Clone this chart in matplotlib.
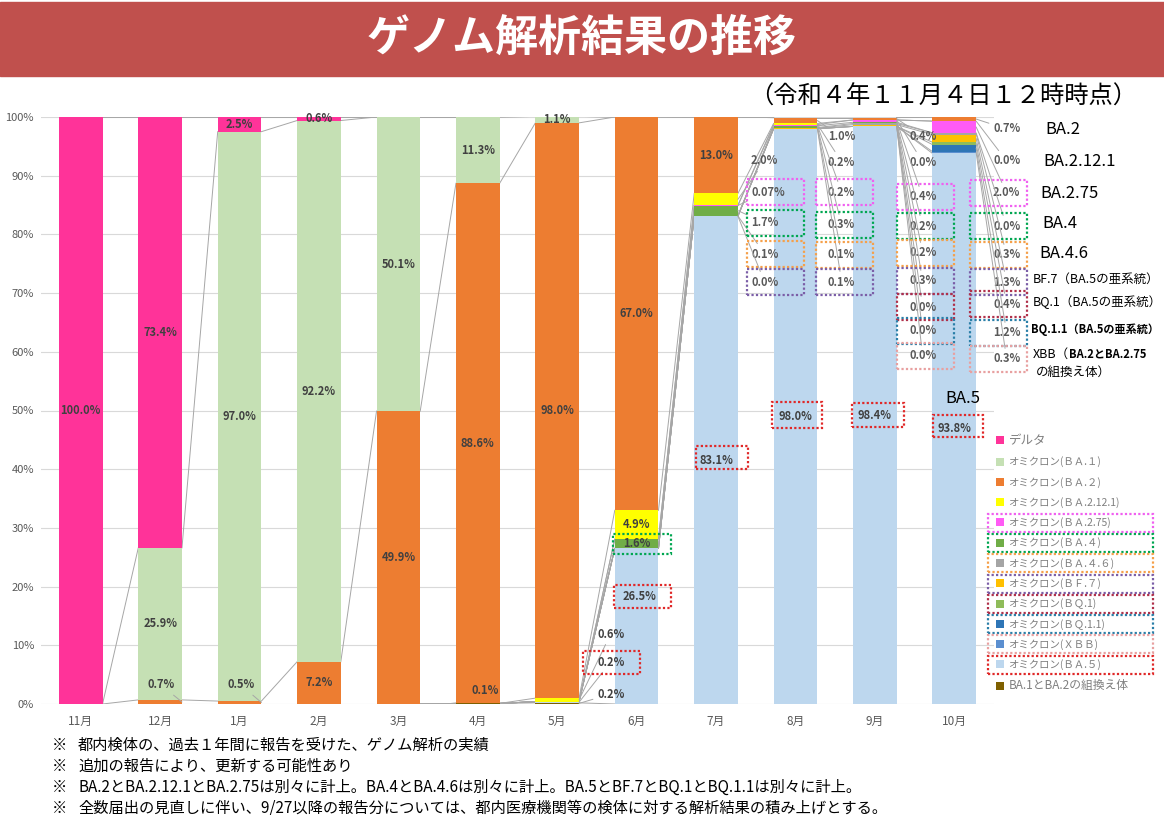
import matplotlib
matplotlib.use("Agg")
import matplotlib.pyplot as plt
from matplotlib.patches import Rectangle
import numpy as np

plt.rcParams['font.family'] = ['Noto Sans CJK JP', 'DejaVu Sans']

months = ['11月', '12月', '1月', '2月', '3月', '4月', '5月', '6月', '7月', '8月', '9月', '10月']

# share of each lineage (%), per month
delta    = [100.0, 73.4, 2.5, 0.6, 0, 0, 0, 0, 0, 0, 0, 0]
ba1      = [0, 25.9, 97.0, 92.2, 50.1, 11.3, 1.1, 0, 0, 0, 0, 0]
ba2      = [0, 0.7, 0.5, 7.2, 49.9, 88.6, 98.0, 67.0, 13.0, 1.0, 0.4, 0.7]
ba2_12_1 = [0, 0, 0, 0, 0, 0, 0.6, 4.9, 2.0, 0.2, 0.0, 0.0]
ba2_75   = [0, 0, 0, 0, 0, 0, 0, 0, 0.07, 0.2, 0.4, 2.0]
ba4      = [0, 0, 0, 0, 0, 0, 0, 1.6, 1.7, 0.3, 0.2, 0.0]
ba4_6    = [0, 0, 0, 0, 0, 0, 0, 0, 0.1, 0.1, 0.2, 0.3]
bf7      = [0, 0, 0, 0, 0, 0, 0, 0, 0.0, 0.1, 0.3, 1.3]
bq1      = [0, 0, 0, 0, 0, 0, 0, 0, 0, 0, 0.0, 0.4]
bq1_1    = [0, 0, 0, 0, 0, 0, 0, 0, 0, 0, 0.0, 1.2]
xbb      = [0, 0, 0, 0, 0, 0, 0, 0, 0, 0, 0.0, 0.3]
ba5      = [0, 0, 0, 0, 0, 0, 0.2, 26.5, 83.1, 98.0, 98.4, 93.8]
recomb   = [0, 0, 0, 0, 0, 0.1, 0.2, 0, 0, 0, 0, 0]

# legend order = top of the stack first
series = [
    ('delta', 'デルタ', '#FF3399', delta),
    ('ba1', 'オミクロン(ＢＡ.１)', '#C5E0B4', ba1),
    ('ba2', 'オミクロン(ＢＡ.２)', '#ED7D31', ba2),
    ('ba2_12_1', 'オミクロン(ＢＡ.2.12.1)', '#FFFF00', ba2_12_1),
    ('ba2_75', 'オミクロン(ＢＡ.2.75)', '#FF5BF5', ba2_75),
    ('ba4', 'オミクロン(ＢＡ.４)', '#70AD47', ba4),
    ('ba4_6', 'オミクロン(ＢＡ.４.６)', '#A5A5A5', ba4_6),
    ('bf7', 'オミクロン(ＢＦ.７)', '#FFC000', bf7),
    ('bq1', 'オミクロン(ＢＱ.1)', '#8FBC5A', bq1),
    ('bq1_1', 'オミクロン(ＢＱ.1.1)', '#2E75B6', bq1_1),
    ('xbb', 'オミクロン(ＸＢＢ)', '#5B8FD0', xbb),
    ('ba5', 'オミクロン(ＢＡ.５)', '#BDD7EE', ba5),
    ('recomb', 'BA.1とBA.2の組換え体', '#7F6000', recomb),
]
box_colors = {'ba2_75': '#F060F0', 'ba4': '#00A651', 'ba4_6': '#F5A04A', 'bf7': '#7B5EA7',
              'bq1': '#B0304A', 'bq1_1': '#2A7FA8', 'xbb': '#E8A0A0', 'ba5': '#E02828'}

W, H = 1164, 815
fig = plt.figure(figsize=(W / 100, H / 100), dpi=100)
ax = fig.add_axes([41 / W, 1 - 704 / H, 953 / W, 587 / H])


def fxy(px, py):
    return (px / W, 1 - py / H)


def dotted_box(cx, cy, w, h, color):
    x0, y0 = fxy(cx - w / 2, cy + h / 2)
    fig.add_artist(Rectangle((x0, y0), w / W, h / H, transform=fig.transFigure, fill=False,
                             edgecolor=color, lw=1.6, ls=(0, (1, 1)), zorder=6))


def pct(v):
    return f'{v:.2f}%' if 0 < v < 0.1 else f'{v:.1f}%'


x = np.arange(len(months))
bw = 0.55
bottom = np.zeros(len(months))
bars, lows, vals_of = {}, {}, {}
for key, label, color, vals in reversed(series):
    vals = np.array(vals, dtype=float)
    vals_of[key] = vals
    bars[key] = ax.bar(x, vals, bw, bottom=bottom, color=color, label=label, zorder=2)
    lows[key] = bottom.copy()
    bottom = bottom + vals
    # series lines between neighbouring columns
    for i in range(len(months) - 1):
        ax.plot([x[i] + bw / 2, x[i + 1] - bw / 2], [bottom[i], bottom[i + 1]],
                color='#A6A6A6', lw=0.7, zorder=1.5)

ax.set_xlim(-0.5, len(months) - 0.5)
ax.set_ylim(0, 100)
ax.set_yticks(range(0, 101, 10))
ax.set_yticklabels([f'{v}%' for v in range(0, 101, 10)], fontsize=8, color='#595959')
ax.set_xticks(x)
ax.set_xticklabels(months, fontsize=8.5, color='#595959')
ax.tick_params(axis='y', length=0, pad=5)
ax.tick_params(axis='x', length=0, pad=8)
ax.yaxis.grid(True, color='#D9D9D9', lw=0.8)
ax.set_axisbelow(True)
for s in ax.spines.values():
    s.set_visible(False)

lab = dict(fontsize=8, fontweight='bold', color='#404040', zorder=5)
lead = dict(arrowstyle='-', color='#A6A6A6', lw=0.7, shrinkA=1, shrinkB=0)

# labels centred in their segment
inside = [(0, 'delta'), (1, 'delta'), (1, 'ba1'), (2, 'delta'), (2, 'ba1'), (3, 'delta'),
          (3, 'ba1'), (3, 'ba2'), (4, 'ba1'), (4, 'ba2'), (5, 'ba1'), (5, 'ba2'), (6, 'ba1'),
          (6, 'ba2'), (7, 'ba2'), (7, 'ba2_12_1'), (7, 'ba4'), (8, 'ba2'), (8, 'ba5'),
          (9, 'ba5'), (10, 'ba5'), (11, 'ba5')]
for i, key in inside:
    v = vals_of[key][i]
    ax.text(x[i], lows[key][i] + v / 2, pct(v), ha='center', va='center', **lab)

# labels placed by hand (pixel position, alignment, leader line)
placed = [(1, 'ba2', 161, 685, 'center', True), (2, 'ba2', 241, 685, 'center', True),
          (5, 'recomb', 485, 690, 'center', False), (6, 'ba2_12_1', 597, 634, 'left', True),
          (6, 'ba5', 597, 662, 'left', True), (6, 'recomb', 597, 694, 'left', True),
          (7, 'ba5', 640, 597, 'center', False)]
for i, key, px, py, ha, has_lead in placed:
    v = vals_of[key][i]
    ax.annotate(pct(v), xy=(x[i] + bw / 2, lows[key][i] + v / 2), xytext=fxy(px, py),
                textcoords='figure fraction', ha=ha, va='center',
                arrowprops=lead if has_lead else None, **lab)

# label columns to the right of the Jul-Oct bars
col_all = ['ba2', 'ba2_12_1', 'ba2_75', 'ba4', 'ba4_6', 'bf7', 'bq1', 'bq1_1', 'xbb']
col_keys = {8: col_all[1:6], 9: col_all[:6], 10: col_all, 11: col_all}
col_y = {8: [161, 192, 223, 254, 282], 9: [137, 162, 192, 225, 255, 282],
         10: [136, 162, 197, 226, 253, 281, 307, 331, 356],
         11: [129, 161, 193, 226, 255, 282, 304, 333, 359]}
col_x = {8: 751, 9: 828, 10: 909, 11: 993}
box_cx = {8: 775, 9: 844, 10: 925, 11: 998}
for i in col_keys:
    for key, py in zip(col_keys[i], col_y[i]):
        v = vals_of[key][i]
        ax.annotate(pct(v), xy=(x[i] + bw / 2, lows[key][i] + v / 2), xytext=fxy(col_x[i], py),
                    textcoords='figure fraction', ha='left', va='center', arrowprops=lead,
                    annotation_clip=False,
                    fontsize=8, fontweight='bold', color='#595959', zorder=5)
        if key in box_colors:
            dotted_box(box_cx[i], py, 57, 26, box_colors[key])

# highlight boxes inside the bars
for cx, cy, w, h, key in [(611, 662, 57, 23, 'ba5'), (642, 544, 58, 20, 'ba4'),
                          (642, 596, 57, 23, 'ba5'), (722, 457, 52, 23, 'ba5'),
                          (797, 415, 50, 25, 'ba5'), (878, 415, 52, 24, 'ba5'),
                          (958, 426, 50, 22, 'ba5')]:
    dotted_box(cx, cy, w, h, box_colors[key])

# lineage names on the right
for txt, px, py, fs, fw in [('BA.2', 1045, 130, 12, 'normal'), ('BA.2.12.1', 1043, 161, 12, 'normal'),
                            ('BA.2.75', 1040, 194, 12, 'normal'), ('BA.4', 1042, 224, 12, 'normal'),
                            ('BA.4.6', 1039, 253, 12, 'normal'),
                            ('BF.7（BA.5の亜系統）', 1033, 279, 9, 'normal'),
                            ('BQ.1（BA.5の亜系統）', 1033, 302, 9, 'normal'),
                            ('BQ.1.1（BA.5の亜系統）', 1031, 330, 8, 'bold'),
                            ('の組換え体）', 1036, 372, 9, 'normal'),
                            ('BA.5', 945, 398, 12, 'normal')]:
    fig.text(*fxy(px, py), txt, fontsize=fs, fontweight=fw, va='center', ha='left')
t_xbb = fig.text(*fxy(1033, 354), 'XBB（', fontsize=9, va='center', ha='left')
ax.annotate('BA.2とBA.2.75', xy=(1, 0.5), xycoords=t_xbb, fontsize=8, fontweight='bold',
            va='center', ha='left', annotation_clip=False)

# legend
leg = fig.legend([bars[k] for k, _, _, _ in series], [lb for _, lb, _, _ in series],
                 loc='upper left', bbox_to_anchor=fxy(996, 434), frameon=False,
                 borderpad=0, borderaxespad=0, fontsize=7.5, labelcolor='#7F7F7F',
                 handlelength=0.8, handleheight=0.8, handletextpad=0.4, labelspacing=0.9)
texts = leg.get_texts()
texts[0].set_fontsize(9)
texts[-1].set_fontsize(8.5)
fig.canvas.draw()
renderer = fig.canvas.get_renderer()
for (key, _, _, _), t in zip(series, texts):
    if key in box_colors:
        bb = t.get_window_extent(renderer)
        cy = H - (bb.y0 + bb.y1) / 2
        dotted_box(1070, cy, 165, 18, box_colors[key])

# header
fig.add_artist(Rectangle((0, 1 - 76 / H), 1, 74 / H, transform=fig.transFigure,
                         color='#C0504D', zorder=0))
fig.text(*fxy(582, 38), 'ゲノム解析結果の推移', color='white', fontsize=31,
         fontweight='bold', ha='center', va='center')
fig.text(*fxy(943, 97), '（令和４年１１月４日１２時時点）', fontsize=17.5,
         ha='center', va='center')

notes = ['都内検体の、過去１年間に報告を受けた、ゲノム解析の実績',
         '追加の報告により、更新する可能性あり',
         'BA.2とBA.2.12.1とBA.2.75は別々に計上。BA.4とBA.4.6は別々に計上。BA.5とBF.7とBQ.1とBQ.1.1は別々に計上。',
         '全数届出の見直しに伴い、9/27以降の報告分については、都内医療機関等の検体に対する解析結果の積み上げとする。']
for k, note in enumerate(notes):
    py = 745 + k * 21
    fig.text(*fxy(52, py), '※', fontsize=11, va='center')
    fig.text(*fxy(78, py), note, fontsize=11, va='center')

fig.savefig('out.png', dpi=100)
